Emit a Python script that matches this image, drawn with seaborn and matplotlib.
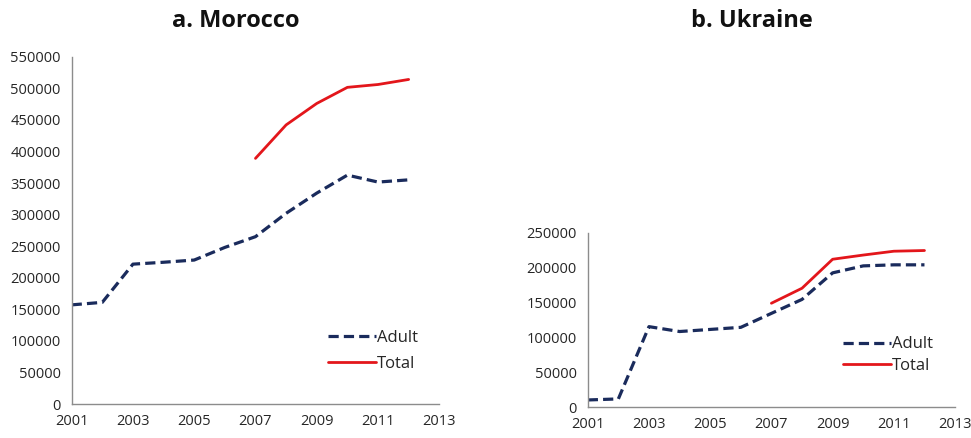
import numpy as np
import pandas as pd
import matplotlib
matplotlib.use("Agg")
import matplotlib.pyplot as plt
import seaborn as sns

# Yearly counts per country
years = list(range(2001, 2013))
morocco_adult = [157000, 161000, 221500, 224500, 228000, 248000,
                 265000, 302000, 334000, 362500, 351500, 355000]
morocco_total = [np.nan] * 6 + [389000, 442000, 476000, 501500, 506000, 514000]
ukraine_adult = [10500, 12000, 115500, 108500, 111500, 114500,
                 134500, 154500, 192500, 202500, 204000, 204000]
ukraine_total = [np.nan] * 6 + [149000, 170500, 212000, 218000, 223500, 224500]

titles = ["a. Morocco", "b. Ukraine"]
y_max = [550000, 250000]
x_ticks = list(range(2001, 2014, 2))

sns.set_style("white")
plt.rcParams["font.family"] = ["Open Sans", "DejaVu Sans"]

ADULT_COLOR = "#1a2b5c"
TOTAL_COLOR = "#e3161b"
SPINE_COLOR = "#8c8c8c"
TEXT_COLOR = "#262626"

fig = plt.figure(figsize=(9.71, 4.38), dpi=100)
ax_left = fig.add_axes([0.0738, 0.0776, 0.3786, 0.7929])
ax_right = fig.add_axes([0.6053, 0.0701, 0.3783, 0.3986])

frames = [
    pd.DataFrame({"year": years, "Adult": morocco_adult, "Total": morocco_total}),
    pd.DataFrame({"year": years, "Adult": ukraine_adult, "Total": ukraine_total}),
]

legend_anchor = [(328 / 971, 1 - 351 / 438), (843 / 971, 1 - 355 / 438)]
legend_spacing = [0.6, 0.3]
title_x = [236 / 971, 752 / 971]

for i, (ax, df) in enumerate(zip([ax_left, ax_right], frames)):
    sns.lineplot(data=df, x="year", y="Adult", ax=ax, color=ADULT_COLOR,
                 linewidth=2.3, label="Adult")
    ax.lines[-1].set_dashes([3.2, 1.6])
    sns.lineplot(data=df.dropna(), x="year", y="Total", ax=ax, color=TOTAL_COLOR,
                 linewidth=2.0, label="Total")

    ax.set_xlim(2001, 2013)
    ax.set_ylim(0, y_max[i])
    ax.set_xticks(x_ticks)
    ax.set_yticks(np.arange(0, y_max[i] + 1, 50000))
    ax.set_xlabel("")
    ax.set_ylabel("")
    for side in ["top", "right"]:
        ax.spines[side].set_visible(False)
    for side in ["left", "bottom"]:
        ax.spines[side].set_color(SPINE_COLOR)
        ax.spines[side].set_linewidth(1.0)
    ax.tick_params(axis="both", direction="out", length=5, width=1.0,
                   color=SPINE_COLOR, labelcolor=TEXT_COLOR, labelsize=10.5)
    ax.tick_params(axis="y", pad=3)
    ax.tick_params(axis="x", pad=2)

    leg = ax.legend(loc="center left", bbox_to_anchor=legend_anchor[i],
                    bbox_transform=fig.transFigure, frameon=False,
                    handlelength=2.9, handletextpad=0.05, borderpad=0,
                    borderaxespad=0, labelspacing=legend_spacing[i],
                    fontsize=12)
    for t in leg.get_texts():
        t.set_color(TEXT_COLOR)

    fig.text(title_x[i], 1 - 21 / 438, titles[i], ha="center", va="center",
             fontsize=17, fontweight="bold", color="#111111")

fig.savefig("out.png", dpi=100)
